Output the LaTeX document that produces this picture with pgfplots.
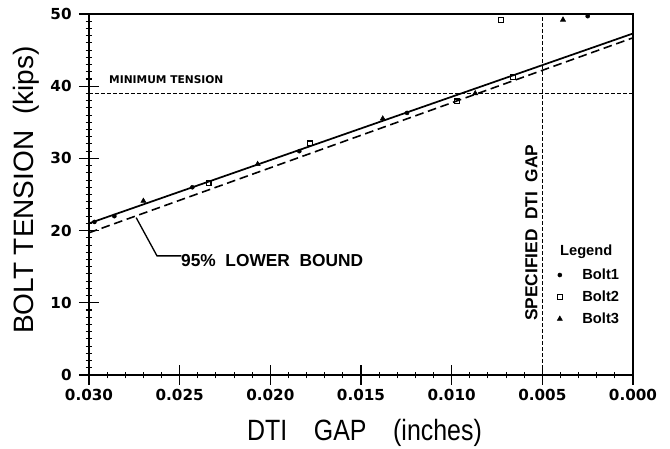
\documentclass[border=0pt]{standalone}
\usepackage{fontspec}
\setmainfont{Liberation Sans}
\newfontfamily\djv{DejaVu Sans}
\newfontfamily\narrowfont{Liberation Sans}[FakeStretch=0.85]
\usepackage{pgfplots}
\pgfplotsset{compat=1.18}
\begin{document}
\begin{tikzpicture}
\useasboundingbox (-66.75pt,-55.5pt) rectangle (435.75pt,281.25pt);
\begin{axis}[
  at={(0pt,0pt)}, anchor=south west,
  scale only axis, width=408pt, height=270.75pt,
  x dir=reverse,
  xmin=0, xmax=0.030, ymin=0, ymax=50,
  xtick={0,0.005,0.010,0.015,0.020,0.025,0.030},
  ytick={0,10,20,30,40,50},
  minor x tick num=4, minor y tick num=9,
  scaled x ticks=false,
  xticklabel style={/pgf/number format/fixed, /pgf/number format/fixed zerofill, /pgf/number format/precision=3},
  /pgf/number format/assume math mode=true,
  tick label style={font=\djv\bfseries\fontsize{11.4}{13}\selectfont},
  xtick pos=lower, ytick pos=left,
  tick align=center,
  major tick length=15pt, minor tick length=5pt,
  tick style={black, line width=1pt},
  minor tick style={line width=0.8pt},
  axis line style={line width=1.4pt},
  yticklabel style={xshift=-2pt},
  clip=false,
  legend style={at={(rel axis cs:0.853,0.31)}, anchor=north west, draw=none, fill=none,
    font=\bfseries\fontsize{11}{13}\selectfont, row sep=3pt,
    /tikz/every odd column/.append style={column sep=13pt}},
  legend cell align=left,
]
% fitted line and 95% lower bound
\addplot[forget plot, black, line width=1.3pt] coordinates {(0.030,21.0) (0.0,47.3)};
\addplot[forget plot, black, line width=1.2pt, dash pattern=on 6.5pt off 3.5pt] coordinates {(0.030,19.7) (0.0,46.7)};
% minimum tension
\addplot[forget plot, black, line width=0.8pt, dash pattern=on 3pt off 1.5pt] coordinates {(0.030,39) (0.0,39)};
% specified DTI gap
\addplot[forget plot, black, line width=1.1pt, dash pattern=on 3pt off 1.5pt] coordinates {(0.005,0) (0.005,50)};
% data
\addplot[only marks, mark=*, mark size=1.5pt, black] coordinates {
 (0.0297,21.2) (0.0286,22.0) (0.0243,26.0) (0.0184,31.0) (0.01246,36.3) (0.0025,49.7)};
\addlegendentry{Bolt1}
\addplot[only marks, mark=square, mark size=1.8pt, black, line width=1pt] coordinates {
 (0.0234,26.6) (0.0178,32.1) (0.0097,37.9) (0.00662,41.3) (0.00728,49.2)};
\addlegendentry{Bolt2}
\addplot[only marks, mark=triangle*, mark size=2.2pt, black] coordinates {
 (0.0270,24.1) (0.0207,29.2) (0.0138,35.5) (0.0087,39.0) (0.00386,49.2)};
\addlegendentry{Bolt3}
% annotations
\node[anchor=west, font=\djv\bfseries\fontsize{8}{10}\selectfont, inner sep=0pt] at (axis cs:0.0289,40.9) {MINIMUM TENSION};
\node[font=\bfseries\fontsize{13}{15}\selectfont, inner sep=1pt] at (axis cs:0.0199,15.8) {95\%\ \ LOWER\ \ BOUND};
\draw[black, line width=1pt] (axis cs:0.0249,16.5) -- (axis cs:0.02625,16.5) -- (axis cs:0.0274,21.8);
\node[rotate=90, font=\bfseries\fontsize{13}{15}\selectfont, inner sep=0pt] at (axis cs:0.0056,19.7) {SPECIFIED\ \ DTI\ \ GAP};
\node[font=\bfseries\fontsize{11}{13}\selectfont, inner sep=0pt] at (rel axis cs:0.914,0.341) {Legend};
\end{axis}
\node[rotate=90, font=\fontsize{21}{25}\selectfont] at (-47pt,138.75pt) {BOLT TENSION\hspace{12pt}(kips)};
\node[font=\narrowfont\fontsize{22}{26}\selectfont] at (206.6pt,-43.5pt) {DTI\hspace{20pt}GAP\hspace{20pt}(inches)};
\end{tikzpicture}
\end{document}
